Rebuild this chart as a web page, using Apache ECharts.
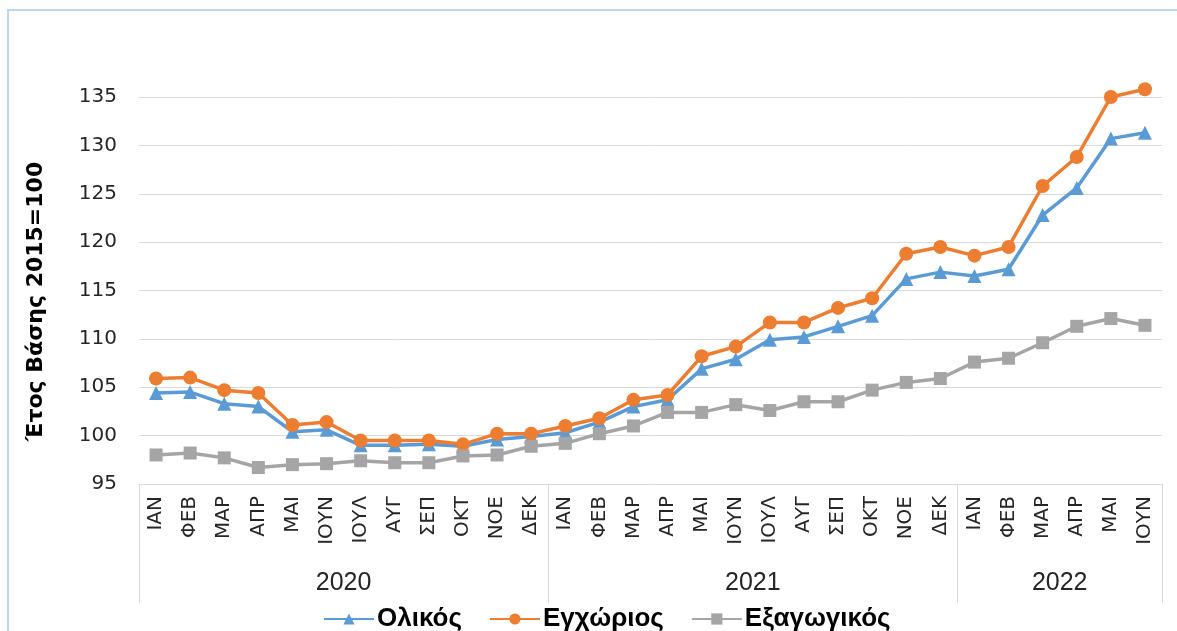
<!DOCTYPE html>
<html>
<head>
<meta charset="utf-8">
<script src="https://cdn.jsdelivr.net/npm/echarts@6/dist/echarts.min.js"></script>
<style>
  html, body { margin: 0; padding: 0; background: #fff; }
  #frame {
    position: absolute; left: 7px; top: 9px; right: 0; bottom: 0;
    border-left: 2px solid #bdd7ee; border-top: 2px solid #bdd7ee;
  }
  #chartsDom { position: absolute; left: 0; top: 0; width: 1177px; height: 631px; }
</style>
</head>
<body>
<div id="frame"></div>
<div id="chartsDom"></div>
<script>
// μήνες και έτη του άξονα
const months = ["ΙΑΝ", "ΦΕΒ", "ΜΑΡ", "ΑΠΡ", "ΜΑΙ", "ΙΟΥΝ", "ΙΟΥΛ", "ΑΥΓ", "ΣΕΠ", "ΟΚΤ", "ΝΟΕ", "ΔΕΚ"];
const years = ["2020", "2021", "2022"];
const monthsPerYear = [12, 12, 6];

// δείκτες (Έτος Βάσης 2015=100)
const olikos = [
  104.4, 104.5, 103.3, 103.0, 100.4, 100.6, 99.0, 99.0, 99.1, 98.9, 99.6, 99.9,
  100.3, 101.4, 103.0, 103.7, 106.9, 107.9, 109.9, 110.2, 111.3, 112.4, 116.2, 116.9,
  116.5, 117.2, 122.8, 125.6, 130.7, 131.3
];
const egxorios = [
  105.9, 106.0, 104.7, 104.4, 101.1, 101.4, 99.5, 99.5, 99.5, 99.1, 100.2, 100.2,
  101.0, 101.8, 103.7, 104.2, 108.2, 109.2, 111.7, 111.7, 113.2, 114.2, 118.8, 119.5,
  118.6, 119.5, 125.8, 128.8, 135.0, 135.8
];
const exagogikos = [
  98.0, 98.2, 97.7, 96.7, 97.0, 97.1, 97.4, 97.2, 97.2, 97.9, 98.0, 98.9,
  99.2, 100.2, 101.0, 102.4, 102.4, 103.2, 102.6, 103.5, 103.5, 104.7, 105.5, 105.9,
  107.6, 108.0, 109.6, 111.3, 112.1, 111.4
];

const categories = [];
const yearEdges = [0];
const yearCenters = [];
monthsPerYear.forEach((n, i) => {
  for (let m = 0; m < n; m++) categories.push(months[m]);
  const start = yearEdges[yearEdges.length - 1];
  yearCenters.push(start + n / 2);
  yearEdges.push(start + n);
});

const gridColor = "#d9d9d9";
const myChart = echarts.init(document.getElementById("chartsDom"));

const option = {
  animation: false,
  grid: { left: 139, right: 15, top: 97, bottom: 147 },
  legend: {
    data: ["Ολικός", "Εγχώριος", "Εξαγωγικός"],
    left: 318,
    top: 601,
    itemWidth: 50,
    itemHeight: 14,
    itemGap: 27,
    textStyle: { fontFamily: "Liberation Sans", fontWeight: "bold", fontSize: 26, color: "#000", padding: [0, 0, 0, -2] }
  },
  xAxis: [
    {
      type: "category",
      data: categories,
      boundaryGap: true,
      axisLine: { lineStyle: { color: gridColor, width: 1 } },
      axisTick: { show: false },
      axisLabel: {
        rotate: 90,
        interval: 0,
        margin: 12,
        fontFamily: "DejaVu Sans",
        fontSize: 20,
        color: "#262626"
      }
    },
    {
      type: "value",
      position: "bottom",
      min: 0,
      max: categories.length,
      axisLine: { show: false },
      splitLine: { show: false },
      axisTick: {
        show: true,
        customValues: yearEdges,
        length: 119,
        lineStyle: { color: gridColor, width: 1 }
      },
      axisLabel: {
        customValues: yearCenters,
        formatter: v => years[yearCenters.indexOf(v)] || "",
        margin: 87,
        fontFamily: "Liberation Sans",
        fontSize: 25,
        color: "#262626"
      }
    }
  ],
  yAxis: {
    type: "value",
    min: 95,
    max: 135,
    interval: 5,
    name: "Έτος Βάσης 2015=100",
    nameLocation: "middle",
    nameGap: 92,
    nameTextStyle: { fontFamily: "DejaVu Sans", fontWeight: "bold", fontSize: 22, color: "#000", padding: [0, 22, 0, 0] },
    axisLine: { show: false },
    axisTick: { show: false },
    splitLine: { lineStyle: { color: gridColor, width: 1 } },
    axisLabel: { margin: 22, fontFamily: "DejaVu Sans", fontSize: 20, color: "#262626" }
  },
  series: [
    {
      name: "Ολικός",
      type: "line",
      data: olikos,
      symbol: "triangle",
      symbolSize: 14,
      clip: false,
      lineStyle: { width: 3.5, color: "#5b9bd5" },
      itemStyle: { color: "#5b9bd5" }
    },
    {
      name: "Εγχώριος",
      type: "line",
      data: egxorios,
      symbol: "circle",
      symbolSize: 14,
      clip: false,
      lineStyle: { width: 3.5, color: "#ed7d31" },
      itemStyle: { color: "#ed7d31" }
    },
    {
      name: "Εξαγωγικός",
      type: "line",
      data: exagogikos,
      symbol: "rect",
      symbolSize: 13,
      clip: false,
      lineStyle: { width: 3.5, color: "#a5a5a5" },
      itemStyle: { color: "#a5a5a5" }
    }
  ]
};
option && myChart.setOption(option);
</script>
</body>
</html>
